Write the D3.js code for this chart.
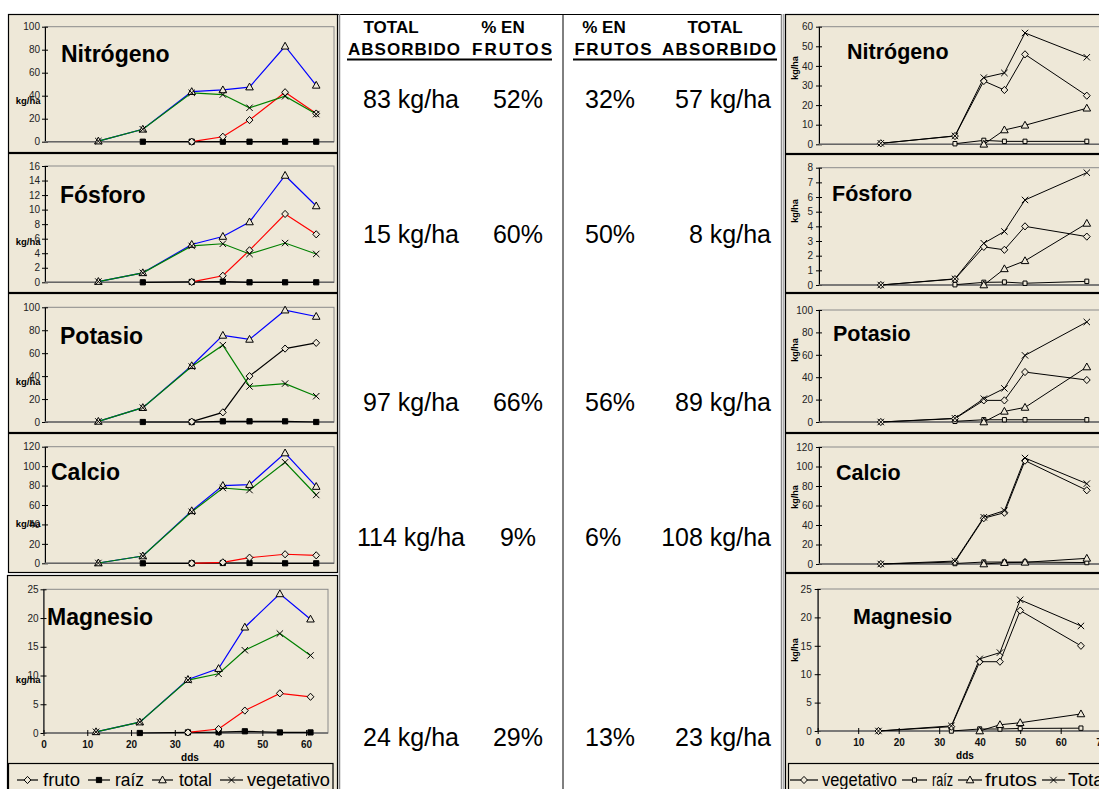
<!DOCTYPE html>
<html><head><meta charset="utf-8">
<script src="https://cdn.jsdelivr.net/npm/d3@7"></script>
<style>
body{margin:0;background:#fff}
svg{display:block}
text{font-family:"Liberation Sans",Arial,Helvetica,sans-serif}
</style>
</head><body>
<svg id="chart" width="1099" height="789"></svg>
<script>
// ---------- data ----------
const nutrients = ["Nitrógeno", "Fósforo", "Potasio", "Calcio", "Magnesio"];
const leftDays = [12, 22, 33, 40, 46, 54, 61];
const rightDays = [15, 33, 40, 45, 50, 65];

// left block: fruto, raíz, total, vegetativo (kg/ha), one row per nutrient
const leftFruto = [
  [null, null, 0, 4.3, 18.8, 43, 24.5],
  [null, null, 0.05, 0.9, 4.4, 9.4, 6.6],
  [null, null, 0.3, 8.4, 40, 64, 69],
  [null, null, 0, 1, 5.8, 9.3, 8.2],
  [null, null, 0.1, 0.7, 3.9, 6.9, 6.3]
];
const leftRaiz = [
  [null, 0, 0, 0, 0, 0, 0],
  [null, 0, 0.05, 0.1, 0, 0, 0],
  [null, 0, 0, 0.6, 0.6, 0.6, 0],
  [null, 0, 0, 0.3, 0.3, 0, 0],
  [null, 0, 0.1, 0.15, 0.3, 0.1, 0.1]
];
const leftTotal = [
  [0.5, 10.8, 43.5, 45, 47.5, 83, 49],
  [0.1, 1.3, 5.2, 6.3, 8.3, 14.7, 10.5],
  [0.5, 12.5, 49, 75.5, 72, 97.5, 92],
  [0.3, 7.5, 54, 80, 81, 113.5, 79],
  [0.2, 1.9, 9.3, 11.2, 18.4, 24.2, 19.8]
];
const leftVeg = [
  [0.5, 10.8, 42.5, 41, 29.5, 39.5, 24],
  [0.1, 1.3, 5.0, 5.3, 3.9, 5.4, 3.9],
  [0.5, 12.5, 48.3, 67, 31, 33.5, 22.5],
  [0.3, 7.5, 53, 77.5, 75.4, 104, 70.3],
  [0.2, 1.9, 9.2, 10.3, 14.4, 17.3, 13.5]
];

// right block: vegetativo, raíz, frutos, Total (kg/ha)
const rightVeg = [
  [0.5, 4.2, 32.3, 27.7, 45.9, 24.8],
  [0, 0.4, 2.6, 2.4, 4.0, 3.3],
  [0, 3.0, 19.3, 19.3, 44.6, 37.5],
  [0, 2, 47, 52.6, 106, 75.6],
  [0, 0.76, 12.2, 12.2, 21.2, 15]
];
const rightRaiz = [
  [null, 0.3, 2, 1.5, 1.5, 1.5],
  [null, 0.02, 0.18, 0.2, 0.12, 0.25],
  [null, 0.6, 2, 2, 2, 2],
  [null, 0.5, 2, 2, 2, 1.5],
  [null, 0, 0.35, 0.35, 0.45, 0.5]
];
const rightFrutos = [
  [null, null, 0, 7.3, 9.7, 18.4],
  [null, null, 0, 1.1, 1.65, 4.2],
  [null, null, 0, 9.5, 13, 49.1],
  [null, null, 0, 1.4, 1.7, 5.8],
  [null, null, 0, 1.1, 1.45, 3.0]
];
const rightTotal = [
  [0.5, 4.3, 34, 36.4, 56.8, 44.4],
  [0, 0.42, 2.85, 3.65, 5.8, 7.66],
  [0, 3.3, 20.8, 30, 59.5, 89.3],
  [0, 3, 47.9, 54.7, 108.7, 82.4],
  [0, 0.9, 12.7, 13.8, 23.1, 18.5]
];

const leftYMax = [100, 16, 100, 120, 25];
const leftYStep = [20, 2, 20, 20, 5];
const rightYMax = [60, 8, 100, 120, 25];
const rightYStep = [10, 1, 20, 20, 5];
const leftXTicks = [0, 10, 20, 30, 40, 50, 60];
const rightXTicks = [0, 10, 20, 30, 40, 50, 60, 70];

const leftLegend = ["fruto", "raíz", "total", "vegetativo"];
const rightLegend = ["vegetativo", "raíz", "frutos", "Total"];

const absorbedA = ["83 kg/ha", "15 kg/ha", "97 kg/ha", "114 kg/ha", "24 kg/ha"];
const pctFruitA = ["52%", "60%", "66%", "9%", "29%"];
const pctFruitB = ["32%", "50%", "56%", "6%", "13%"];
const absorbedB = ["57 kg/ha", "8 kg/ha", "89 kg/ha", "108 kg/ha", "23 kg/ha"];

// ---------- layout & style ----------
const BEIGE = "#EEE8D8";
const svg = d3.select("#chart");

const leftLayout = [
  {frame: [14, 152], plot: [26.7, 141.7], x: [45, 334], title: [61, 62], unitY: 104},
  {frame: [153, 292], plot: [166, 282.3], x: [45, 334], title: [60, 203], unitY: 245},
  {frame: [293, 432], plot: [307.3, 422], x: [45, 334], title: [60, 344], unitY: 385},
  {frame: [433, 572], plot: [446.7, 563.3], x: [45, 334], title: [51, 480], unitY: 527},
  {frame: [575, 800], plot: [589.3, 733], x: [43.5, 328], title: [47, 625], unitY: 683}
];
const rightLayout = [
  {frame: [14, 153], plot: [26.7, 144.3], title: [847, 59], unitY: 68},
  {frame: [154, 292], plot: [167.7, 285], title: [832, 201], unitY: 211},
  {frame: [293, 432], plot: [310, 422], title: [833, 341], unitY: 350},
  {frame: [433, 572], plot: [447, 564], title: [836, 480], unitY: 497},
  {frame: [573, 800], plot: [589, 731], title: [853, 624], unitY: 650}
];
const leftFrutoColor = ["#FF0000", "#FF0000", "#000000", "#FF0000", "#FF0000"];

const markers = {
  diamond: {d: "M0,-3.6L3.4,0L0,3.6L-3.4,0Z", fill: BEIGE, stroke: "#000"},
  square: {d: "M-2.6,-2.6h5.2v5.2h-5.2Z", fill: "#000", stroke: "#000"},
  smallSquare: {d: "M-2,-2.2h4v4.4h-4Z", fill: BEIGE, stroke: "#000"},
  triangle: {d: "M0,-4L3.8,2.8L-3.8,2.8Z", fill: BEIGE, stroke: "#000"},
  cross: {d: "M-3.2,-3.2L3.2,3.2M-3.2,3.2L3.2,-3.2", fill: "none", stroke: "#000"}
};

function drawMarker(g, name, x, y) {
  const m = markers[name];
  g.append("path").attr("d", m.d).attr("transform", `translate(${x},${y})`)
    .attr("fill", m.fill).attr("stroke", m.stroke).attr("stroke-width", 1);
}

function drawPanel(g, cfg) {
  const x = d3.scaleLinear().domain(cfg.xDomain).range(cfg.xRange);
  const y = d3.scaleLinear().domain([0, cfg.yMax]).range([cfg.plot[1], cfg.plot[0]]);

  // chart area
  g.append("rect").attr("x", cfg.frameX[0] + 0.5).attr("y", cfg.frame[0] + 0.5)
    .attr("width", cfg.frameX[1] - cfg.frameX[0]).attr("height", cfg.frame[1] - cfg.frame[0])
    .attr("fill", BEIGE).attr("stroke", "#000").attr("stroke-width", 1.2);

  // plot area
  g.append("rect").attr("x", cfg.xRange[0]).attr("y", cfg.plot[0])
    .attr("width", cfg.plotRight - cfg.xRange[0]).attr("height", cfg.plot[1] - cfg.plot[0])
    .attr("fill", BEIGE).attr("stroke", "#8a8a8a").attr("stroke-width", 1);

  // y axis
  const yAxis = d3.axisLeft(y)
    .tickValues(d3.range(0, cfg.yMax + cfg.yStep / 2, cfg.yStep))
    .tickSize(3).tickSizeOuter(0).tickPadding(cfg.tickPad);
  const ya = g.append("g").attr("transform", `translate(${cfg.xRange[0]},0)`).call(yAxis);
  ya.select(".domain").attr("stroke", "#000");
  ya.selectAll(".tick line").attr("x1", 3).attr("x2", -3).attr("stroke", "#000");
  ya.selectAll(".tick text").attr("font-size", 10).attr("fill", "#222")
    .style("font-family", '"Liberation Sans",Arial,sans-serif');

  // x axis
  const xAxis = d3.axisBottom(x).tickSizeOuter(0)
    .tickValues(cfg.xTicks || []).tickSize(cfg.xTicks ? 3 : 0).tickPadding(5);
  const xa = g.append("g").attr("transform", `translate(0,${y(0)})`).call(xAxis);
  xa.select(".domain").attr("stroke", "#666").attr("stroke-width", 1.4)
    .attr("d", `M${cfg.xRange[0]},0H${cfg.plotRight}`);
  xa.selectAll(".tick line").attr("y1", -3).attr("y2", 3).attr("stroke", "#000");
  xa.selectAll(".tick text").attr("font-size", 10).attr("font-weight", "bold").attr("fill", "#111")
    .style("font-family", '"Liberation Sans",Arial,sans-serif');
  if (cfg.xTicks) {
    g.append("text").attr("x", cfg.ddsX)
      .attr("y", cfg.ddsY).attr("text-anchor", "middle")
      .attr("font-size", 10).attr("font-weight", "bold").text("dds");
  }

  // title & unit label
  g.append("text").attr("x", cfg.title[0]).attr("y", cfg.title[1])
    .attr("font-size", cfg.titleSize).attr("font-weight", "bold").attr("fill", "#000").text(cfg.name);
  if (cfg.unitRotated) {
    g.append("text").attr("transform", `translate(${cfg.unitX},${cfg.unitY}) rotate(-90)`)
      .attr("text-anchor", "middle").attr("font-size", 9).attr("font-weight", "bold").text("kg/ha");
  } else {
    g.append("text").attr("x", cfg.unitX).attr("y", cfg.unitY).attr("text-anchor", "end")
      .attr("font-size", 9.5).attr("font-weight", "bold").text("kg/ha");
  }

  // series
  const line = d3.line().defined(d => d.v != null).x(d => x(d.d)).y(d => y(d.v));
  cfg.series.forEach(s => {
    const pts = cfg.days.map((d, i) => ({d, v: s.values[i]}));
    g.append("path").datum(pts).attr("d", line).attr("fill", "none")
      .attr("stroke", s.color).attr("stroke-width", s.width || 1.2);
  });
  cfg.series.forEach(s => {
    cfg.days.forEach((d, i) => {
      if (s.values[i] != null) drawMarker(g, s.marker, x(d), y(s.values[i]));
    });
  });
}

// ---------- left block ----------
nutrients.forEach((name, k) => {
  const L = leftLayout[k];
  const last = k === nutrients.length - 1;
  drawPanel(svg.append("g"), {
    name, frame: L.frame, frameX: [last ? 7 : 8, 337], plot: L.plot,
    xDomain: [0, 65], xRange: L.x, plotRight: L.x[1],
    yMax: leftYMax[k], yStep: leftYStep[k], tickPad: 2,
    xTicks: last ? leftXTicks : null, ddsY: 761, ddsX: 190,
    title: L.title, titleSize: 23, unitX: 40.5, unitY: L.unitY,
    days: leftDays,
    series: [
      {values: leftRaiz[k], color: "#000", marker: "square"},
      {values: leftFruto[k], color: leftFrutoColor[k], marker: "diamond"},
      {values: leftTotal[k], color: "#0000FF", marker: "triangle"},
      {values: leftVeg[k], color: "#008000", marker: "cross"}
    ]
  });
});

// ---------- right block ----------
nutrients.forEach((name, k) => {
  const R = rightLayout[k];
  const last = k === nutrients.length - 1;
  const xr = last ? [817.7, 1101.2] : [819, 1107.4];
  drawPanel(svg.append("g"), {
    name, frame: R.frame, frameX: [785, 1120], plot: R.plot,
    xDomain: [0, 70], xRange: xr, plotRight: 1120,
    yMax: rightYMax[k], yStep: rightYStep[k], tickPad: 3,
    xTicks: last ? rightXTicks : null, ddsY: 759, ddsX: 965,
    title: R.title, titleSize: 21.5, unitRotated: true, unitX: 798, unitY: R.unitY,
    days: rightDays,
    series: [
      {values: rightRaiz[k], color: "#000", marker: "smallSquare", width: 1},
      {values: rightFrutos[k], color: "#000", marker: "triangle", width: 1},
      {values: rightVeg[k], color: "#000", marker: "diamond", width: 1},
      {values: rightTotal[k], color: "#000", marker: "cross", width: 1}
    ]
  });
});

// ---------- legends ----------
function legend(x0, boxW, items, segs, textX, widths) {
  const g = svg.append("g");
  g.append("rect").attr("x", x0).attr("y", 763.5).attr("width", boxW).attr("height", 40)
    .attr("fill", BEIGE).attr("stroke", "#000").attr("stroke-width", 1.2);
  items.forEach((it, i) => {
    g.append("line").attr("x1", segs[i][0]).attr("x2", segs[i][1]).attr("y1", 780).attr("y2", 780)
      .attr("stroke", "#000").attr("stroke-width", 1.2);
    drawMarker(g, it.marker, (segs[i][0] + segs[i][1]) / 2, 780);
    g.append("text").attr("x", textX[i]).attr("y", 786).attr("font-size", 18)
      .attr("textLength", widths[i]).attr("lengthAdjust", "spacingAndGlyphs").text(it.label);
  });
}
legend(8.5, 324.5, [
  {label: leftLegend[0], marker: "diamond"}, {label: leftLegend[1], marker: "square"},
  {label: leftLegend[2], marker: "triangle"}, {label: leftLegend[3], marker: "cross"}
], [[17, 38], [88, 110], [152, 173], [220, 243]], [43, 115, 179, 247], [37, 29, 33, 83]);
legend(788.5, 400, [
  {label: rightLegend[0], marker: "diamond"}, {label: rightLegend[1], marker: "smallSquare"},
  {label: rightLegend[2], marker: "triangle"}, {label: rightLegend[3], marker: "cross"}
], [[790, 818], [902, 927], [958, 982], [1042, 1065]], [822, 932, 985, 1068], [75, 21, 52, 40]);

// ---------- middle table ----------
const mid = svg.append("g");
mid.append("line").attr("x1", 338).attr("x2", 782).attr("y1", 14.5).attr("y2", 14.5).attr("stroke", "#000");
mid.append("line").attr("x1", 563).attr("x2", 563).attr("y1", 14).attr("y2", 789).attr("stroke", "#000");
mid.append("line").attr("x1", 339.5).attr("x2", 339.5).attr("y1", 14).attr("y2", 789).attr("stroke", "#888").attr("stroke-width", 1.5);
mid.append("line").attr("x1", 781.5).attr("x2", 781.5).attr("y1", 14).attr("y2", 789).attr("stroke", "#888").attr("stroke-width", 1.5);
mid.append("line").attr("x1", 783.8).attr("x2", 783.8).attr("y1", 14).attr("y2", 789).attr("stroke", "#888").attr("stroke-width", 1);

const heads = [
  {t: "TOTAL", x: 391, y: 33}, {t: "% EN", x: 503, y: 33},
  {t: "ABSORBIDO", x: 404, y: 55, w: 112}, {t: "FRUTOS", x: 512, y: 55, w: 80},
  {t: "% EN", x: 604, y: 33}, {t: "TOTAL", x: 715, y: 33},
  {t: "FRUTOS", x: 613, y: 55, w: 77}, {t: "ABSORBIDO", x: 719, y: 55, w: 114}
];
heads.forEach(h => {
  const t = mid.append("text").attr("x", h.x).attr("y", h.y).attr("text-anchor", "middle")
    .attr("font-size", 17).attr("font-weight", "bold").text(h.t);
  if (h.w) t.attr("textLength", h.w).attr("lengthAdjust", "spacing");
});
mid.append("line").attr("x1", 347).attr("x2", 552).attr("y1", 59.5).attr("y2", 59.5).attr("stroke", "#000").attr("stroke-width", 2);
mid.append("line").attr("x1", 573).attr("x2", 777).attr("y1", 59.5).attr("y2", 59.5).attr("stroke", "#000").attr("stroke-width", 2);

const rowBase = [108, 243, 411, 546, 746];
nutrients.forEach((n, k) => {
  const yb = rowBase[k];
  mid.append("text").attr("x", 411).attr("y", yb).attr("text-anchor", "middle").attr("font-size", 25).text(absorbedA[k]);
  mid.append("text").attr("x", 518).attr("y", yb).attr("text-anchor", "middle").attr("font-size", 25).text(pctFruitA[k]);
  mid.append("text").attr("x", 585).attr("y", yb).attr("text-anchor", "start").attr("font-size", 25).text(pctFruitB[k]);
  mid.append("text").attr("x", 771).attr("y", yb).attr("text-anchor", "end").attr("font-size", 25).text(absorbedB[k]);
});
</script>
</body></html>
